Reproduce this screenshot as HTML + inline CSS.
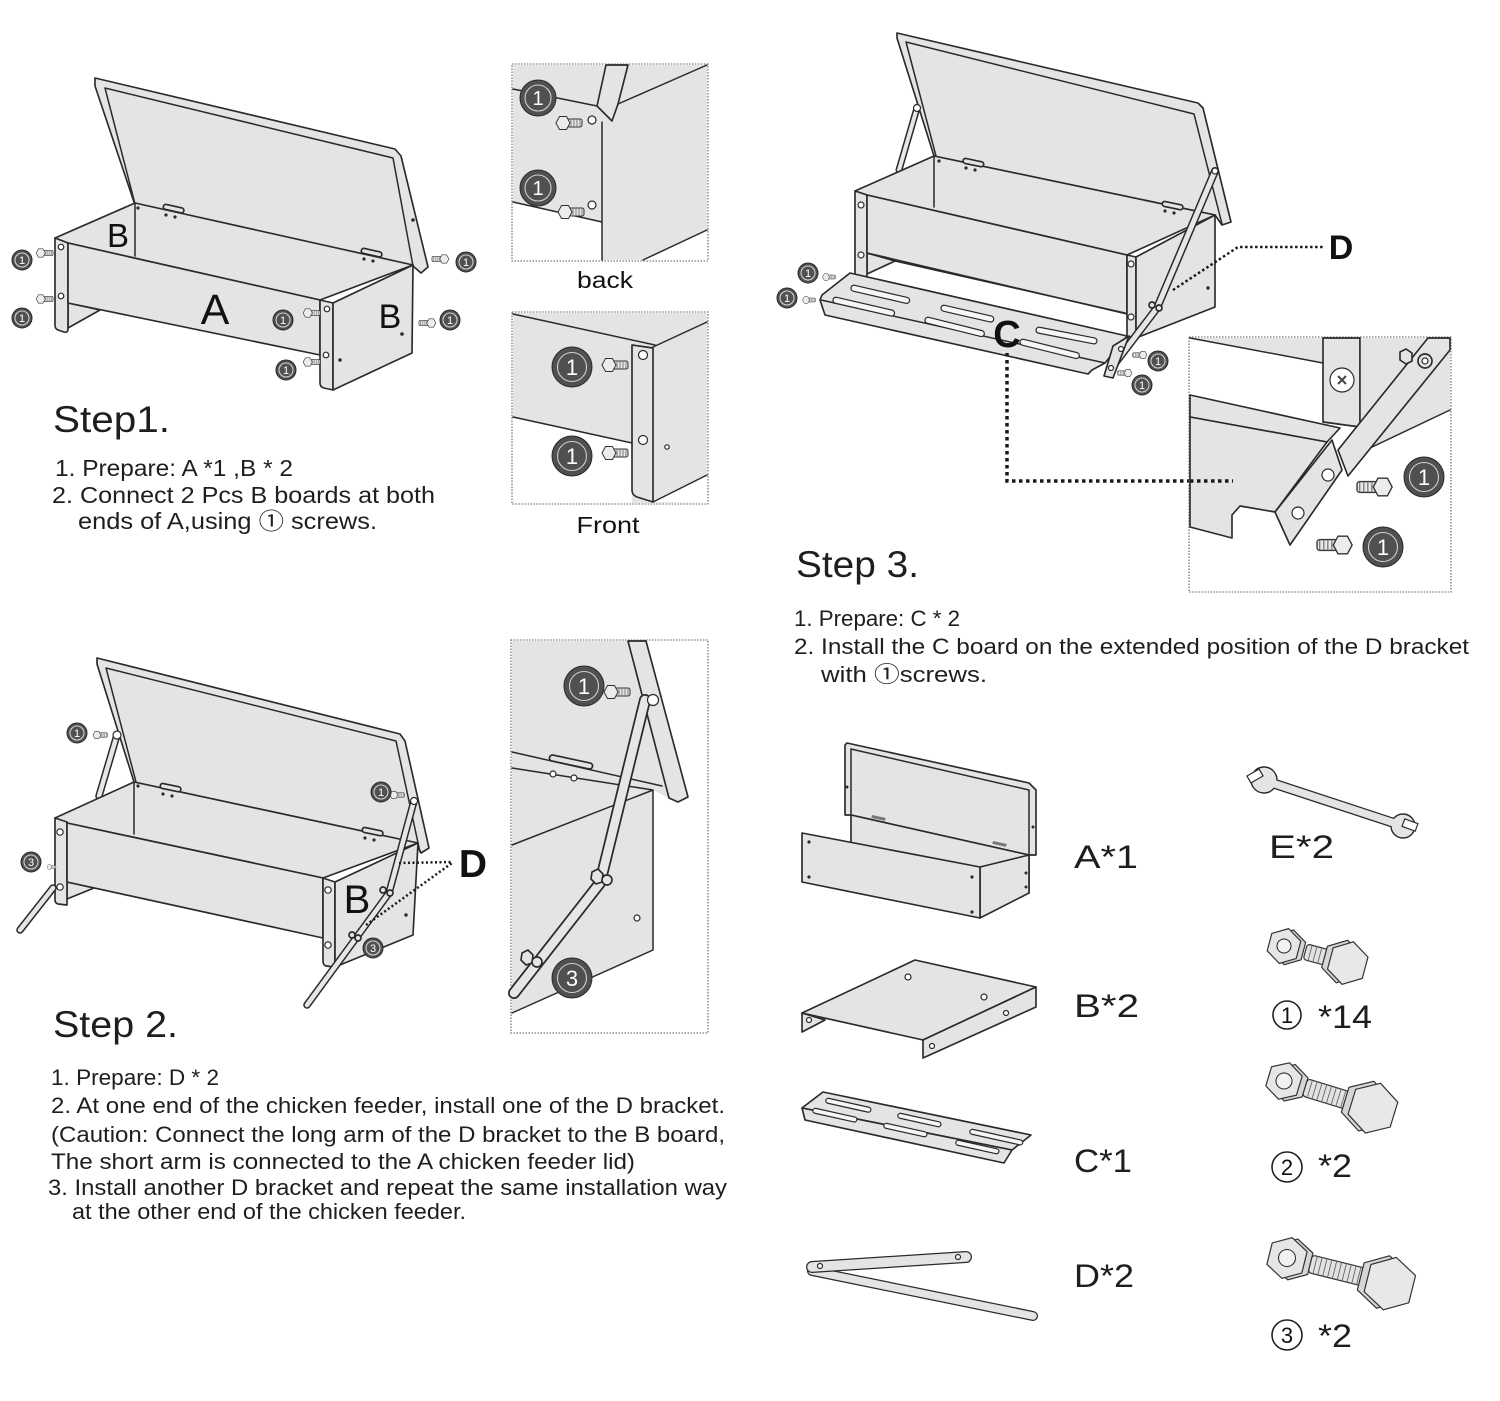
<!DOCTYPE html>
<html><head><meta charset="utf-8"><title>Chicken feeder assembly</title>
<style>
html,body{margin:0;padding:0;background:#fff;width:1500px;height:1401px;overflow:hidden}
svg{display:block}
text{font-family:"Liberation Sans","Noto Sans CJK SC",sans-serif;fill:#1e1e1e}
.p{fill:#e4e4e4;stroke:#2a2a2a;stroke-width:1.65;stroke-linejoin:round}
.l{fill:none;stroke:#2a2a2a;stroke-width:1.5;stroke-linecap:round;stroke-linejoin:round}
.h{fill:#fff;stroke:#2a2a2a;stroke-width:1.2}
.dot{fill:#2a2a2a}
.box{fill:#fff;stroke:#7a7a7a;stroke-width:1.3;stroke-dasharray:1.5 1.5}
.bg{fill:#505050;stroke:#2a2a2a;stroke-width:1}
.br{fill:none;stroke:#cfcfcf;stroke-width:1.1}
.bt{fill:#fff;text-anchor:middle}
.bo{fill:none;stroke:#2a2a2a;stroke-linecap:round;stroke-linejoin:round}
.bi{fill:none;stroke:#e6e6e6;stroke-linecap:round;stroke-linejoin:round}
.dl{fill:none;stroke:#1a1a1a}
.lab{text-anchor:middle;fill:#111}
.sl{fill:#f6f6f6;stroke:#2a2a2a;stroke-width:1.2}
</style></head><body>
<svg width="1500" height="1401" viewBox="0 0 1500 1401" xmlns="http://www.w3.org/2000/svg">
<defs>
<g id="bolt">
<rect x="2" y="-4" width="15" height="8" rx="2" fill="#e6e6e6" stroke="#333" stroke-width="1"/>
<path d="M6,-4v8M9,-4v8M12,-4v8M15,-4v8" stroke="#666" stroke-width="0.8"/>
<polygon points="5,0 1.5,6.5 -5.5,6.5 -9,0 -5.5,-6.5 1.5,-6.5" fill="#ececec" stroke="#333" stroke-width="1"/>
</g>
</defs>
<rect width="1500" height="1401" fill="#fff"/>

<!-- ================= STEP 1 ================= -->
<path class="p" d="M95,78 L395,149 L401,156 L428,267 L421,273 L413,266 L135,205 L95,86 Z"/>
<path class="l" d="M105,88 L393,158 L413,266 M105,88 L135,204"/>
<path class="p" d="M55,238 L135,203 L413,265 L320,300 L68,243 Z"/>
<path class="l" d="M135,203 V256"/>
<path class="p" d="M68,303 L100,310 L68,328 Z"/>
<path class="p" d="M55,238 L68,243 L68,329 Q68,333 64,332 L58,330 Q55,329 55,325 Z"/>
<path class="p" d="M68,243 L320,300 L320,355 L68,303 Z"/>
<path class="p" d="M320,300 L333,303 L333,390 L324,388 Q320,387 320,383 Z"/>
<path class="p" d="M333,303 L413,265 L412,353 L333,390 Z"/>
<rect x="163" y="206" width="21" height="5" rx="2.5" class="p" stroke-width="1" transform="rotate(12.6 173 209)"/>
<circle cx="166" cy="215" r="1.6" class="dot"/><circle cx="175" cy="217" r="1.6" class="dot"/>
<rect x="361" y="250" width="21" height="5" rx="2.5" class="p" stroke-width="1" transform="rotate(12.6 371 253)"/>
<circle cx="364" cy="259" r="1.6" class="dot"/><circle cx="373" cy="261" r="1.6" class="dot"/>
<circle cx="138" cy="208" r="1.6" class="dot"/><circle cx="413" cy="220" r="1.8" class="dot"/>
<circle cx="61" cy="247" r="2.8" class="h"/><circle cx="61" cy="296" r="2.8" class="h"/>
<circle cx="327" cy="309" r="2.8" class="h"/><circle cx="326" cy="355" r="2.8" class="h"/>
<circle cx="340" cy="360" r="1.8" class="dot"/><circle cx="402" cy="334" r="1.8" class="dot"/>
<use href="#bolt" transform="translate(42,253) scale(0.65)"/>
<use href="#bolt" transform="translate(42,299) scale(0.65)"/>
<use href="#bolt" transform="translate(309,313) scale(0.65)"/>
<use href="#bolt" transform="translate(309,362) scale(0.65)"/>
<use href="#bolt" transform="translate(443,259) scale(-0.65,0.65)"/>
<use href="#bolt" transform="translate(430,323) scale(-0.65,0.65)"/>
<circle cx="22" cy="260" r="10" class="bg"/><circle cx="22" cy="260" r="7" class="br"/><text x="22" y="264" font-size="11" class="bt">1</text>
<circle cx="22" cy="318" r="10" class="bg"/><circle cx="22" cy="318" r="7" class="br"/><text x="22" y="322" font-size="11" class="bt">1</text>
<circle cx="283" cy="320" r="10" class="bg"/><circle cx="283" cy="320" r="7" class="br"/><text x="283" y="324" font-size="11" class="bt">1</text>
<circle cx="286" cy="370" r="10" class="bg"/><circle cx="286" cy="370" r="7" class="br"/><text x="286" y="374" font-size="11" class="bt">1</text>
<circle cx="466" cy="262" r="10" class="bg"/><circle cx="466" cy="262" r="7" class="br"/><text x="466" y="266" font-size="11" class="bt">1</text>
<circle cx="450" cy="320" r="10" class="bg"/><circle cx="450" cy="320" r="7" class="br"/><text x="450" y="324" font-size="11" class="bt">1</text>
<text x="118" y="247" font-size="33" class="lab">B</text>
<text x="215" y="324" font-size="43" class="lab">A</text>
<text x="390" y="328" font-size="34" class="lab">B</text>

<!-- back detail -->
<rect x="512" y="64" width="196" height="197" class="box"/>
<rect x="513" y="65" width="194" height="195" fill="#e4e4e4"/>
<polygon points="513,202 602,222 602,260 513,260" fill="#fff"/>
<polygon points="643,260 707,230 707,260" fill="#fff"/>
<path class="l" d="M513,89 L597,106"/>
<path class="p" d="M606,65 L628,65 L618,104 L612,121 L597,106 Z"/>
<path class="l" d="M602,122 V260 M618,104 L707,65 M643,260 L707,230 M513,202 L602,222"/>
<circle cx="592" cy="120" r="4" class="h"/><circle cx="592" cy="205" r="4" class="h"/>
<use href="#bolt" transform="translate(565,123)"/>
<use href="#bolt" transform="translate(567,212)"/>
<circle cx="538" cy="98" r="18" class="bg"/><circle cx="538" cy="98" r="13" class="br"/><text x="538" y="105" font-size="20" class="bt">1</text>
<circle cx="538" cy="188" r="18" class="bg"/><circle cx="538" cy="188" r="13" class="br"/><text x="538" y="195" font-size="20" class="bt">1</text>
<text x="605" y="288" font-size="23" class="lab" textLength="56" lengthAdjust="spacingAndGlyphs">back</text>

<!-- front detail -->
<rect x="512" y="312" width="196" height="192" class="box"/>
<rect x="513" y="313" width="194" height="190" fill="#e4e4e4"/>
<polygon points="513,417 632,443 632,503 513,503" fill="#fff"/>
<polygon points="653,502 707,475 707,503" fill="#fff"/>
<path class="l" d="M513,314 L655,345 M653,347 L707,322 M513,417 L632,443 M653,502 L707,475"/>
<path class="p" d="M632,345 L653,348 L653,502 L637,497 Q632,495 632,490 Z"/>
<circle cx="643" cy="355" r="4.5" class="h"/><circle cx="643" cy="440" r="4.5" class="h"/><circle cx="667" cy="447" r="2.2" class="h"/>
<use href="#bolt" transform="translate(611,365)"/>
<use href="#bolt" transform="translate(611,453)"/>
<circle cx="572" cy="367" r="20" class="bg"/><circle cx="572" cy="367" r="14.5" class="br"/><text x="572" y="375" font-size="22" class="bt">1</text>
<circle cx="572" cy="456" r="20" class="bg"/><circle cx="572" cy="456" r="14.5" class="br"/><text x="572" y="464" font-size="22" class="bt">1</text>
<text x="608" y="533" font-size="23" class="lab" textLength="63" lengthAdjust="spacingAndGlyphs">Front</text>

<!-- step1 text -->
<text x="53" y="432" font-size="37" textLength="117" lengthAdjust="spacingAndGlyphs">Step1.</text>
<text x="55" y="476" font-size="23" textLength="238" lengthAdjust="spacingAndGlyphs">1. Prepare: A *1 ,B * 2</text>
<text x="52" y="503" font-size="23" textLength="383" lengthAdjust="spacingAndGlyphs">2. Connect 2 Pcs B boards at both</text>
<text x="78" y="529" font-size="23" textLength="299" lengthAdjust="spacingAndGlyphs">ends of A,using ① screws.</text>

<!-- ================= STEP 2 ================= -->
<path class="p" d="M97,658 L400,734 L405,741 L429,848 L421,853 L416,843 L134,782 L97,664 Z"/>
<path class="l" d="M106,668 L396,741 L420,852 M106,668 L136,782"/>
<polyline points="117,735 99,796" class="bo" stroke-width="7.5"/>
<polyline points="117,735 99,796" class="bi" stroke-width="4.5"/>
<circle cx="117" cy="735" r="4" class="h"/>
<path class="p" d="M55,818 L134,782 L418,843 L323,878 L67,823 Z"/>
<path class="l" d="M134,782 V834"/>
<path class="p" d="M67,882 L94,888 L67,899 Z"/>
<path class="p" d="M55,818 L67,822 L67,905 L58,904 Q55,903 55,900 Z"/>
<path class="p" d="M67,823 L323,878 L323,938 L67,882 Z"/>
<path class="p" d="M323,878 L335,882 L335,967 L326,966 Q323,965 323,961 Z"/>
<path class="p" d="M335,882 L418,843 L413,935 L335,967 Z"/>
<rect x="160" y="785" width="21" height="5" rx="2.5" class="p" stroke-width="1" transform="rotate(12 170 788)"/>
<circle cx="163" cy="794" r="1.6" class="dot"/><circle cx="172" cy="796" r="1.6" class="dot"/>
<rect x="362" y="829" width="21" height="5" rx="2.5" class="p" stroke-width="1" transform="rotate(12 372 832)"/>
<circle cx="365" cy="838" r="1.6" class="dot"/><circle cx="374" cy="840" r="1.6" class="dot"/>
<circle cx="138" cy="786" r="1.6" class="dot"/>
<circle cx="60" cy="832" r="3.2" class="h"/><circle cx="60" cy="887" r="3.2" class="h"/>
<circle cx="328" cy="890" r="3.2" class="h"/><circle cx="328" cy="945" r="3.2" class="h"/>
<circle cx="406" cy="915" r="1.7" class="dot"/>
<polyline points="53,888 20,930" class="bo" stroke-width="7.5"/>
<polyline points="53,888 20,930" class="bi" stroke-width="4.5"/>
<polyline points="414,801 389,893 307,1005" class="bo" stroke-width="7.5"/>
<polyline points="414,801 389,893 307,1005" class="bi" stroke-width="4.5"/>
<circle cx="414" cy="801" r="3.5" class="h"/>
<circle cx="383" cy="890" r="3" class="p" stroke-width="1"/><circle cx="390" cy="893" r="3" class="p" stroke-width="1"/>
<circle cx="352" cy="935" r="3" class="p" stroke-width="1"/><circle cx="358" cy="938" r="3" class="p" stroke-width="1"/>
<use href="#bolt" transform="translate(98,735) scale(0.55)"/>
<use href="#bolt" transform="translate(395,795) scale(0.55)"/>
<use href="#bolt" transform="translate(50,867) scale(0.35)"/>
<circle cx="77" cy="733" r="10" class="bg"/><circle cx="77" cy="733" r="7" class="br"/><text x="77" y="737" font-size="11" class="bt">1</text>
<circle cx="381" cy="792" r="10" class="bg"/><circle cx="381" cy="792" r="7" class="br"/><text x="381" y="796" font-size="11" class="bt">1</text>
<circle cx="31" cy="862" r="10" class="bg"/><circle cx="31" cy="862" r="7" class="br"/><text x="31" y="866" font-size="11" class="bt">3</text>
<circle cx="373" cy="948" r="10" class="bg"/><circle cx="373" cy="948" r="7" class="br"/><text x="373" y="952" font-size="11" class="bt">3</text>
<text x="357" y="913" font-size="40" class="lab">B</text>
<path class="dl" d="M399,863 L452,862 M366,925 L452,863" stroke-width="2.5" stroke-dasharray="2 2.5"/>
<text x="473" y="877" font-size="39" font-weight="bold" class="lab">D</text>

<!-- step2 detail -->
<rect x="511" y="640" width="197" height="393" class="box"/>
<polygon points="512,641 646,641 688,797 676,802 653,790 653,950 512,1013" fill="#e4e4e4"/>
<path class="p" d="M628,641 L646,641 L688,797 L678,802 L669,798 Z"/>
<path class="l" d="M512,752 L662,786 M512,768 L653,790 M512,845 L653,790 M653,790 V950 M512,1013 L653,950"/>
<rect x="549" y="759" width="44" height="6" rx="3" class="p" stroke-width="1" transform="rotate(12 571 762)"/>
<circle cx="553" cy="774" r="3" class="h"/><circle cx="574" cy="778" r="3" class="h"/>
<polyline points="645,700 600,883 514,993" class="bo" stroke-width="12"/>
<polyline points="645,700 600,883 514,993" class="bi" stroke-width="8.5"/>
<circle cx="653" cy="700" r="5.5" class="h"/>
<circle cx="637" cy="918" r="3" class="h"/>
<polygon points="592,872 598,869 603,874 602,882 596,884 591,879" class="p" stroke-width="1.1"/>
<circle cx="607" cy="880" r="5" class="p" stroke-width="1.1"/>
<polygon points="522,953 528,950 533,955 532,963 526,965 521,960" class="p" stroke-width="1.1"/>
<circle cx="537" cy="962" r="5" class="p" stroke-width="1.1"/>
<use href="#bolt" transform="translate(613,692)"/>
<circle cx="584" cy="686" r="20" class="bg"/><circle cx="584" cy="686" r="14.5" class="br"/><text x="584" y="694" font-size="22" class="bt">1</text>
<circle cx="572" cy="978" r="20" class="bg"/><circle cx="572" cy="978" r="14.5" class="br"/><text x="572" y="986" font-size="22" class="bt">3</text>

<!-- step2 text -->
<text x="53" y="1037" font-size="37" textLength="125" lengthAdjust="spacingAndGlyphs">Step 2.</text>
<text x="51" y="1085" font-size="22" textLength="168" lengthAdjust="spacingAndGlyphs">1. Prepare: D * 2</text>
<text x="51" y="1113" font-size="22" textLength="674" lengthAdjust="spacingAndGlyphs">2. At one end of the chicken feeder, install one of the D bracket.</text>
<text x="51" y="1142" font-size="22" textLength="674" lengthAdjust="spacingAndGlyphs">(Caution: Connect the long arm of the D bracket to the B board,</text>
<text x="51" y="1169" font-size="22" textLength="584" lengthAdjust="spacingAndGlyphs">The short arm is connected to the A chicken feeder lid)</text>
<text x="48" y="1195" font-size="22" textLength="679" lengthAdjust="spacingAndGlyphs">3. Install another D bracket and repeat the same installation way</text>
<text x="72" y="1219" font-size="22" textLength="394" lengthAdjust="spacingAndGlyphs">at the other end of the chicken feeder.</text>

<!-- ================= STEP 3 ================= -->
<path class="p" d="M897,33 L1198,103 L1203,108 L1231,222 L1222,225 L1215,215 L934,156 L897,38 Z"/>
<path class="l" d="M906,42 L1194,114 L1222,224 M906,42 L936,156"/>
<polyline points="917,108 899,170" class="bo" stroke-width="7"/>
<polyline points="917,108 899,170" class="bi" stroke-width="4"/>
<circle cx="917" cy="108" r="3.5" class="h"/>
<path class="p" d="M855,191 L934,156 L1215,215 L1127,255 L867,195 Z"/>
<path class="l" d="M934,156 V207"/>
<path class="p" d="M867,253 L895,261 L867,274 Z"/>
<path class="p" d="M855,191 L867,195 L867,276 L855,280 Z"/>
<path class="p" d="M867,195 L1127,255 L1127,314 L867,253 Z"/>
<path class="l" d="M895,261 L1125,313"/>
<path class="p" d="M1127,255 L1136,257 L1136,338 L1127,336 Z"/>
<path class="p" d="M1136,257 L1215,215 L1215,307 L1136,338 Z"/>
<rect x="963" y="160" width="21" height="5" rx="2.5" class="p" stroke-width="1" transform="rotate(11.9 973 162)"/>
<circle cx="966" cy="168" r="1.6" class="dot"/><circle cx="975" cy="170" r="1.6" class="dot"/>
<rect x="1162" y="203" width="21" height="5" rx="2.5" class="p" stroke-width="1" transform="rotate(11.9 1172 206)"/>
<circle cx="1165" cy="211" r="1.6" class="dot"/><circle cx="1174" cy="213" r="1.6" class="dot"/>
<circle cx="939" cy="161" r="1.6" class="dot"/>
<circle cx="861" cy="205" r="3" class="h"/><circle cx="861" cy="255" r="3" class="h"/>
<circle cx="1131" cy="264" r="3" class="h"/><circle cx="1131" cy="317" r="3" class="h"/>
<circle cx="1208" cy="288" r="1.7" class="dot"/>
<!-- C board -->
<path class="p" d="M850,273 L1127,336 L1105,363 L1092,370 L1088,374 L825,315 L820,300 L822,295 Z"/>
<path class="l" d="M821,300 L1105,363" stroke-width="1.1"/>
<g transform="rotate(13 853 288)"><rect x="851" y="285" width="60" height="6" rx="3" class="sl"/></g>
<g transform="rotate(13 943 308)"><rect x="941" y="305" width="54" height="6" rx="3" class="sl"/></g>
<g transform="rotate(11 1038 330)"><rect x="1036" y="327" width="62" height="6" rx="3" class="sl"/></g>
<g transform="rotate(13 835 300)"><rect x="833" y="297" width="63" height="6" rx="3" class="sl"/></g>
<g transform="rotate(14 927 320)"><rect x="925" y="317" width="61" height="6" rx="3" class="sl"/></g>
<g transform="rotate(14 1022 342)"><rect x="1020" y="339" width="61" height="6" rx="3" class="sl"/></g>
<polyline points="1215,171 1157,308 1116,362" class="bo" stroke-width="8"/>
<polyline points="1215,171 1157,308 1116,362" class="bi" stroke-width="5"/>
<path class="p" d="M1113,346 L1129,336 L1113,378 L1104,376 Z"/>
<circle cx="1121" cy="349" r="2.5" class="h"/><circle cx="1111" cy="368" r="2.5" class="h"/>
<circle cx="1215" cy="171" r="3" class="h"/>
<circle cx="1152" cy="305" r="3" class="p" stroke-width="1"/><circle cx="1159" cy="308" r="3" class="p" stroke-width="1"/>
<use href="#bolt" transform="translate(827,277) scale(0.5)"/>
<use href="#bolt" transform="translate(807,300) scale(0.5)"/>
<use href="#bolt" transform="translate(1142,355) scale(-0.55,0.55)"/>
<use href="#bolt" transform="translate(1127,373) scale(-0.55,0.55)"/>
<circle cx="808" cy="273" r="10" class="bg"/><circle cx="808" cy="273" r="7" class="br"/><text x="808" y="277" font-size="11" class="bt">1</text>
<circle cx="787" cy="298" r="10" class="bg"/><circle cx="787" cy="298" r="7" class="br"/><text x="787" y="302" font-size="11" class="bt">1</text>
<circle cx="1158" cy="361" r="10" class="bg"/><circle cx="1158" cy="361" r="7" class="br"/><text x="1158" y="365" font-size="11" class="bt">1</text>
<circle cx="1142" cy="385" r="10" class="bg"/><circle cx="1142" cy="385" r="7" class="br"/><text x="1142" y="389" font-size="11" class="bt">1</text>
<text x="1007" y="347" font-size="38" font-weight="bold" class="lab">C</text>
<text x="1341" y="259" font-size="34" font-weight="bold" class="lab">D</text>
<path class="dl" d="M1007,353 V481 H1233" stroke-width="3.5" stroke-dasharray="3.5 3.5"/>
<path class="dl" d="M1173,290 L1238,247 H1323" stroke-width="2.5" stroke-dasharray="2.5 2.5"/>

<!-- step3 detail -->
<rect x="1189" y="337" width="262" height="255" class="box"/>
<polygon points="1190,338 1323,338 1323,363" fill="#e4e4e4"/>
<path class="l" d="M1190,338 L1323,363"/>
<path class="p" d="M1323,338 L1360,338 L1360,427 L1323,422 Z" stroke-width="1.3"/>
<circle cx="1342" cy="380" r="12" class="h" fill="#f2f2f2"/>
<path d="M1338,376 l8,8 M1346,376 l-8,8" stroke="#444" stroke-width="2" fill="none"/>
<polygon points="1360,338 1450,338 1450,410 1370,448 1360,445" fill="#e4e4e4"/>
<path class="l" d="M1360,338 V445 M1370,448 L1450,410"/>
<path class="p" d="M1428,338 L1450,338 L1450,350 L1348,476 L1338,450 Z" stroke-width="1.3"/>
<polygon points="1400,352 1406,349 1412,353 1412,361 1406,364 1400,360" class="p" stroke-width="1.2"/>
<circle cx="1425" cy="361" r="7" class="p" stroke-width="1.2"/><circle cx="1425" cy="361" r="3" class="h"/>
<path class="p" d="M1190,395 L1340,428 L1327,442 L1190,417 Z" stroke-width="1.3"/>
<path class="p" d="M1190,417 L1327,442 L1275,512 L1240,506 L1232,515 L1232,538 L1190,527 Z" stroke-width="1.3"/>
<path class="p" d="M1332,440 L1342,470 L1290,545 L1275,512 Z" stroke-width="1.3"/>
<circle cx="1328" cy="475" r="6" class="h"/><circle cx="1298" cy="513" r="6" class="h"/>
<use href="#bolt" transform="translate(1380,487) scale(-1.35,1.35)"/>
<use href="#bolt" transform="translate(1340,545) scale(-1.35,1.35)"/>
<circle cx="1424" cy="477" r="20" class="bg"/><circle cx="1424" cy="477" r="14.5" class="br"/><text x="1424" y="485" font-size="22" class="bt">1</text>
<circle cx="1383" cy="547" r="20" class="bg"/><circle cx="1383" cy="547" r="14.5" class="br"/><text x="1383" y="555" font-size="22" class="bt">1</text>
<path class="dl" d="M1190,481 H1233" stroke-width="3.5" stroke-dasharray="3.5 3.5"/>

<!-- step3 text -->
<text x="796" y="577" font-size="37" textLength="123" lengthAdjust="spacingAndGlyphs">Step 3.</text>
<text x="794" y="626" font-size="22" textLength="166" lengthAdjust="spacingAndGlyphs">1. Prepare: C * 2</text>
<text x="794" y="654" font-size="22" textLength="675" lengthAdjust="spacingAndGlyphs">2. Install the C board on the extended position of the D bracket</text>
<text x="821" y="682" font-size="22" textLength="166" lengthAdjust="spacingAndGlyphs">with ①screws.</text>

<!-- ================= PARTS LIST ================= -->
<!-- A -->
<path class="p" d="M847,743 L1029,783 L1036,790 L1036,855 L1029,855 L851,815 L845,815 L845,745 Z" stroke-width="1.2"/>
<path class="l" d="M851,749 L1029,790 L1029,855 M851,749 L851,815" stroke-width="1"/>
<path class="p" d="M851,815 L1029,855 L1029,893 L851,853 Z" stroke-width="1.2"/>
<path class="p" d="M980,867 L1029,855 L1029,893 L980,918 Z" stroke-width="1.2"/>
<path class="p" d="M802,833 L980,867 L980,918 L802,882 Z" stroke-width="1.2"/>
<rect x="872" y="815" width="14" height="3" fill="#777" transform="rotate(12 872 815)"/>
<rect x="993" y="841" width="14" height="3" fill="#777" transform="rotate(12 993 841)"/>
<circle cx="847" cy="787" r="1.5" class="dot"/><circle cx="1033" cy="827" r="1.5" class="dot"/>
<circle cx="809" cy="842" r="1.6" class="dot"/><circle cx="809" cy="877" r="1.6" class="dot"/>
<circle cx="972" cy="877" r="1.6" class="dot"/><circle cx="972" cy="912" r="1.6" class="dot"/>
<circle cx="1026" cy="873" r="1.5" class="dot"/><circle cx="1026" cy="887" r="1.5" class="dot"/>
<text x="1074" y="868" font-size="32" textLength="64" lengthAdjust="spacingAndGlyphs">A*1</text>
<!-- B -->
<path class="p" d="M802,1013 L915,960 L1036,987 L923,1040 Z" stroke-width="1.2"/>
<path class="p" d="M923,1040 L1036,987 L1036,1007 L923,1058 Z" stroke-width="1.2"/>
<path class="p" d="M802,1013 L825,1020 L802,1032 Z" stroke-width="1.2"/>
<circle cx="908" cy="977" r="3" class="h"/><circle cx="984" cy="997" r="3" class="h"/>
<circle cx="809" cy="1020" r="2.5" class="h"/><circle cx="932" cy="1046" r="2.5" class="h"/><circle cx="1006" cy="1013" r="2.5" class="h"/>
<text x="1074" y="1017" font-size="32" textLength="65" lengthAdjust="spacingAndGlyphs">B*2</text>
<!-- C -->
<path class="p" d="M823,1092 L1031,1135 L1012,1150 L802,1108 Z" stroke-width="1.2"/>
<path class="p" d="M802,1108 L1012,1150 L1004,1163 L805,1120 Z" stroke-width="1.2"/>
<g transform="rotate(12.5 827 1100)"><rect x="826" y="1098" width="46" height="5" rx="2.5" class="sl" stroke-width="1"/></g>
<g transform="rotate(12.5 899 1115)"><rect x="898" y="1113" width="44" height="5" rx="2.5" class="sl" stroke-width="1"/></g>
<g transform="rotate(12.5 971 1131)"><rect x="970" y="1129" width="54" height="5" rx="2.5" class="sl" stroke-width="1"/></g>
<g transform="rotate(12.5 814 1110)"><rect x="813" y="1108" width="45" height="5" rx="2.5" class="sl" stroke-width="1"/></g>
<g transform="rotate(12.5 885 1125)"><rect x="884" y="1123" width="44" height="5" rx="2.5" class="sl" stroke-width="1"/></g>
<g transform="rotate(12.5 957 1142)"><rect x="956" y="1140" width="44" height="5" rx="2.5" class="sl" stroke-width="1"/></g>
<text x="1074" y="1172" font-size="32" textLength="58" lengthAdjust="spacingAndGlyphs">C*1</text>
<!-- D -->
<polyline points="812,1271 1033,1316" class="bo" stroke-width="10"/>
<polyline points="812,1271 1033,1316" fill="none" stroke="#e4e4e4" stroke-width="7.5" stroke-linecap="round"/>
<polyline points="812,1267 966,1257" class="bo" stroke-width="12"/>
<polyline points="812,1267 966,1257" fill="none" stroke="#e4e4e4" stroke-width="9.5" stroke-linecap="round"/>
<circle cx="820" cy="1266" r="2.5" class="h"/><circle cx="958" cy="1257" r="2.5" class="h"/>
<text x="1074" y="1287" font-size="32" textLength="60" lengthAdjust="spacingAndGlyphs">D*2</text>
<!-- E wrench -->
<polyline points="1266,781 1403,826" class="bo" stroke-width="10"/>
<circle cx="1264" cy="780" r="13" fill="#e4e4e4" stroke="#2a2a2a" stroke-width="1.4"/>
<circle cx="1403" cy="826" r="12" fill="#e4e4e4" stroke="#2a2a2a" stroke-width="1.4"/>
<polyline points="1266,781 1403,826" fill="none" stroke="#e4e4e4" stroke-width="7.5"/>
<rect x="1248" y="772" width="14" height="8" fill="#fff" stroke="#2a2a2a" stroke-width="1.2" transform="rotate(-30 1255 776)"/>
<rect x="1403" y="821" width="14" height="8" fill="#fff" stroke="#2a2a2a" stroke-width="1.2" transform="rotate(20 1410 825)"/>
<text x="1269" y="858" font-size="32" textLength="65" lengthAdjust="spacingAndGlyphs">E*2</text>
<!-- bolt 1 -->
<g transform="translate(1284,946) rotate(15)">
<polygon points="5,-18 20,-9 20,9 5,18 -10,9 -10,-9" fill="#d6d6d6" stroke="#333" stroke-width="1.2"/>
<polygon points="0,-18 15,-9 15,9 0,18 -15,9 -15,-9" fill="#e6e6e6" stroke="#333" stroke-width="1.2"/>
<circle r="7" fill="#f2f2f2" stroke="#333" stroke-width="1.1"/>
<rect x="22" y="-8" width="30" height="16" rx="3" fill="#e2e2e2" stroke="#333" stroke-width="1.2"/>
<path d="M27,-8v16M32,-8v16M37,-8v16M42,-8v16M47,-8v16" stroke="#666" stroke-width="0.9"/>
<polygon points="60,-22 78,-11 78,11 60,22 42,11 42,-11" fill="#d6d6d6" stroke="#333" stroke-width="1.2"/>
<polygon points="66,-22 84,-11 84,11 66,22 48,11 48,-11" fill="#e8e8e8" stroke="#333" stroke-width="1.2"/>
</g>
<circle cx="1287" cy="1015" r="14" fill="none" stroke="#222" stroke-width="1.6"/>
<text x="1287" y="1023" font-size="22" class="lab">1</text>
<text x="1318" y="1028" font-size="32" textLength="54" lengthAdjust="spacingAndGlyphs">*14</text>
<!-- bolt 2 -->
<g transform="translate(1284,1081) rotate(17)">
<polygon points="6,-19 22,-10 22,10 6,19 -10,10 -10,-10" fill="#d6d6d6" stroke="#333" stroke-width="1.2"/>
<polygon points="0,-19 16,-10 16,10 0,19 -16,10 -16,-10" fill="#e6e6e6" stroke="#333" stroke-width="1.2"/>
<circle r="8" fill="#f2f2f2" stroke="#333" stroke-width="1.1"/>
<rect x="22" y="-9" width="50" height="18" rx="3" fill="#e2e2e2" stroke="#333" stroke-width="1.2"/>
<path d="M27,-9v18M32,-9v18M37,-9v18M42,-9v18M47,-9v18M52,-9v18M57,-9v18M62,-9v18M67,-9v18" stroke="#666" stroke-width="0.9"/>
<polygon points="86,-26 108,-13 108,13 86,26 64,13 64,-13" fill="#d6d6d6" stroke="#333" stroke-width="1.2"/>
<polygon points="93,-26 115,-13 115,13 93,26 71,13 71,-13" fill="#e8e8e8" stroke="#333" stroke-width="1.2"/>
</g>
<circle cx="1287" cy="1167" r="15" fill="none" stroke="#222" stroke-width="1.6"/>
<text x="1287" y="1175" font-size="22" class="lab">2</text>
<text x="1318" y="1177" font-size="32" textLength="34" lengthAdjust="spacingAndGlyphs">*2</text>
<!-- bolt 3 -->
<g transform="translate(1287,1258) rotate(14)">
<polygon points="6,-21 24,-11 24,11 6,21 -12,11 -12,-11" fill="#d6d6d6" stroke="#333" stroke-width="1.2"/>
<polygon points="0,-21 18,-11 18,11 0,21 -18,11 -18,-11" fill="#e6e6e6" stroke="#333" stroke-width="1.2"/>
<circle r="8.5" fill="#f2f2f2" stroke="#333" stroke-width="1.1"/>
<rect x="24" y="-9" width="62" height="18" rx="3" fill="#e2e2e2" stroke="#333" stroke-width="1.2"/>
<path d="M29,-9v18M34,-9v18M39,-9v18M44,-9v18M49,-9v18M54,-9v18M59,-9v18M64,-9v18M69,-9v18M74,-9v18M79,-9v18" stroke="#666" stroke-width="0.9"/>
<polygon points="99,-27 122,-14 122,14 99,27 76,14 76,-14" fill="#d6d6d6" stroke="#333" stroke-width="1.2"/>
<polygon points="106,-27 129,-14 129,14 106,27 83,14 83,-14" fill="#e8e8e8" stroke="#333" stroke-width="1.2"/>
</g>
<circle cx="1287" cy="1335" r="15" fill="none" stroke="#222" stroke-width="1.6"/>
<text x="1287" y="1343" font-size="22" class="lab">3</text>
<text x="1318" y="1347" font-size="32" textLength="34" lengthAdjust="spacingAndGlyphs">*2</text>
</svg>
</body></html>
